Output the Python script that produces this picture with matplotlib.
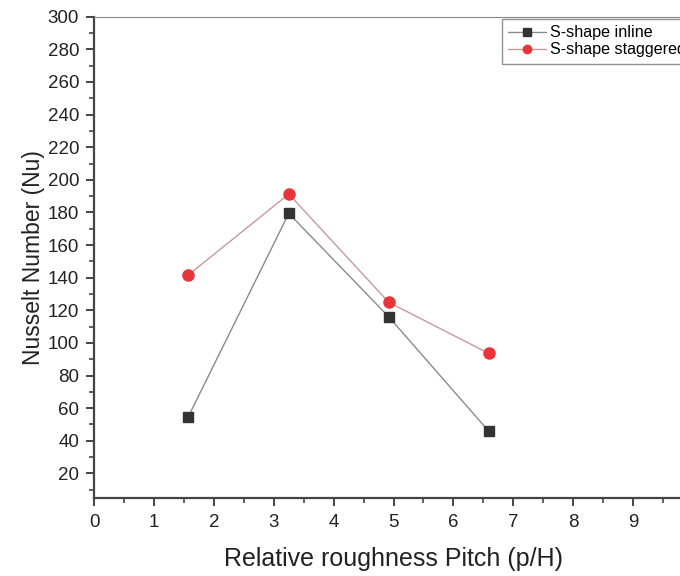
import matplotlib
matplotlib.use("Agg")
from matplotlib import pyplot as plt
from matplotlib.ticker import MultipleLocator

plt.rcParams['font.family'] = ['Liberation Sans', 'DejaVu Sans']

pitch = [1.57, 3.25, 4.92, 6.59]
nu_inline = [54.7, 179.4, 116.0, 45.9]
nu_staggered = [141.6, 191.3, 124.9, 93.6]
labels = ['S-shape inline', 'S-shape staggered']

fig = plt.figure(figsize=(6.8, 5.76), dpi=100)
ax = fig.add_axes([0.1387, 0.1349, 0.880, 0.836])

ax.plot(pitch, nu_inline, color='#8a8a8a', lw=1.0, marker='s', ms=7,
        mfc='#333333', mec='#333333', label=labels[0])
ax.plot(pitch, nu_staggered, color='#c49a9c', lw=1.0, marker='o', ms=8,
        mfc='#e8353a', mec='#e8353a', label=labels[1])

ax.set_xlim(0, 10)
ax.set_ylim(4.7, 300)
ax.xaxis.set_minor_locator(MultipleLocator(0.5))
ax.yaxis.set_minor_locator(MultipleLocator(10))
ax.set_xticks(range(0, 10))
ax.set_xticklabels([str(i) for i in range(0, 10)])
ax.set_yticks(range(20, 301, 20))

for s in ['left', 'bottom']:
    ax.spines[s].set_color('#444444')
    ax.spines[s].set_linewidth(1.6)
ax.spines['top'].set_color('#888888')
ax.spines['top'].set_linewidth(0.8)
ax.spines['right'].set_visible(False)

ax.tick_params(which='major', direction='out', length=6, width=1.4,
               color='#444444', labelsize=13.5, labelcolor='#222222', pad=5)
ax.tick_params(which='minor', direction='out', length=3.5, width=1.2,
               color='#444444')

ax.set_xlabel('Relative roughness Pitch (p/H)', fontsize=18, color='#222222', labelpad=12)
ax.set_ylabel('Nusselt Number (Nu)', fontsize=16.5, color='#222222', labelpad=2)

# legend sits at the axes' upper right, which runs past the figure edge like the original
leg = fig.legend(loc='upper left', bbox_to_anchor=(502 / 680, 1 - 19 / 576),
                 fontsize=11.6, frameon=True, fancybox=False, edgecolor='#777777',
                 borderpad=0.4, labelspacing=0.12, handlelength=2.3,
                 handletextpad=0.3, borderaxespad=0, markerscale=0.75)
leg.get_frame().set_linewidth(1.0)

fig.savefig('out.png', dpi=100)
